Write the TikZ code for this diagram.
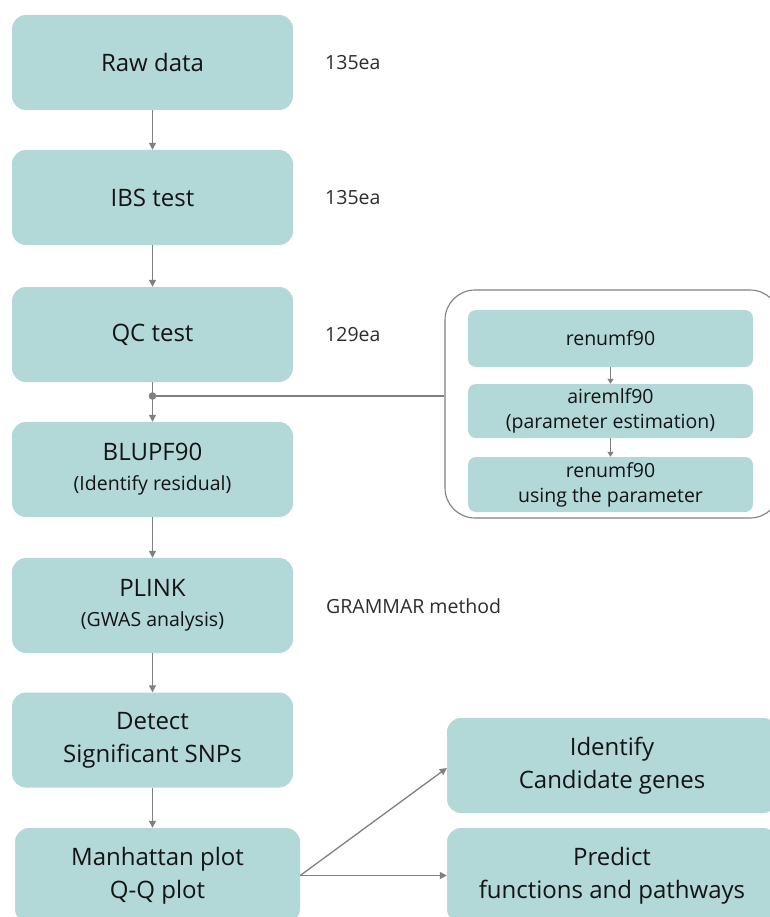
\documentclass[tikz,border=0pt]{standalone}
\usepackage{fontspec}
\setmainfont{Open Sans}
\usetikzlibrary{arrows.meta}
\definecolor{boxfill}{RGB}{178,216,215}
\definecolor{linegray}{RGB}{128,128,128}
\definecolor{textdark}{RGB}{20,20,20}
\definecolor{notegray}{RGB}{45,45,45}
\newcommand{\subline}[1]{{\fontsize{19.5}{25}\selectfont #1}}
\tikzset{
  procbox/.style={rectangle, rounded corners=14pt, fill=boxfill, text=textdark,
    minimum width=281pt, minimum height=95pt, inner sep=0pt, align=center,
    font=\fontsize{24}{33}\selectfont},
  subbox/.style={rectangle, rounded corners=8pt, fill=boxfill, text=textdark,
    minimum width=285pt, inner sep=0pt, align=center,
    font=\fontsize{19.5}{25}\selectfont},
  note/.style={anchor=west, inner sep=0pt, text=notegray,
    font=\fontsize{19.5}{24}\selectfont},
  flow/.style={draw=linegray, line width=1.3pt, -{Triangle[width=7pt,length=7pt]}},
  smallflow/.style={draw=linegray, line width=1.2pt, -{Triangle[width=6pt,length=5pt]}},
}
\begin{document}
\begin{tikzpicture}[x=1pt,y=-1pt]
  \useasboundingbox (0,0) rectangle (769,917);
  % main column
  \node[procbox] (raw) at (152.5,62.5) {Raw data};
  \node[procbox] (ibs) at (152.5,197.5) {IBS test};
  \node[procbox] (qc) at (152.5,334.5) {QC test};
  \node[procbox] (blup) at (152.5,469.5) {BLUPF90\\[-3pt]\subline{(Identify residual)}};
  \node[procbox] (plink) at (152.5,605.5) {PLINK\\[-3pt]\subline{(GWAS analysis)}};
  \node[procbox] (detect) at (152.5,740) {Detect\\Significant SNPs};
  \node[procbox, minimum width=285pt] (manh) at (157.5,875.5) {Manhattan plot\\Q-Q plot};
  % counts
  \node[note] (n1) at (325,63) {135ea};
  \node[note] (n2) at (325,198) {135ea};
  \node[note] (n3) at (325,335) {129ea};
  \node[note] (n4) at (326,606) {GRAMMAR method};
  % variance components panel
  \node[draw=linegray, line width=1.1pt, rounded corners=30pt,
    minimum width=335pt, minimum height=228pt] (panel) at (612.5,404) {};
  \node[subbox, minimum height=57pt] (ren1) at (610.5,338.5) {renumf90};
  \node[subbox, minimum height=54pt] (aireml) at (610.5,411) {airemlf90\\(parameter estimation)};
  \node[subbox, minimum height=55pt] (ren2) at (610.5,484.5) {renumf90\\using the parameter};
  % results
  \node[procbox, minimum width=330pt] (genes) at (612,765.5) {Identify\\Candidate genes};
  \node[procbox, minimum width=330pt] (pred) at (612,875.5) {Predict\\functions and pathways};
  \coordinate (junc) at (152.5,396);
  \begin{scope}[flow]
    \draw (raw) to (ibs);
    \draw (ibs) to (qc);
    \draw (qc) to (blup);
    \draw (blup) to (plink);
    \draw (plink) to (detect);
    \draw (detect.south) to (detect.south |- manh.north);
    \draw (manh.east) to (genes.west |- 0,768);
    \draw (manh.east) to (pred.west |- manh.east);
  \end{scope}
  \begin{scope}[smallflow]
    \draw (ren1) to (aireml);
    \draw (aireml) to (ren2);
  \end{scope}
  \draw[linegray, line width=1.3pt] (junc) -- (junc -| panel.west);
  \fill[linegray] (junc) circle (3.8pt);
\end{tikzpicture}
\end{document}
